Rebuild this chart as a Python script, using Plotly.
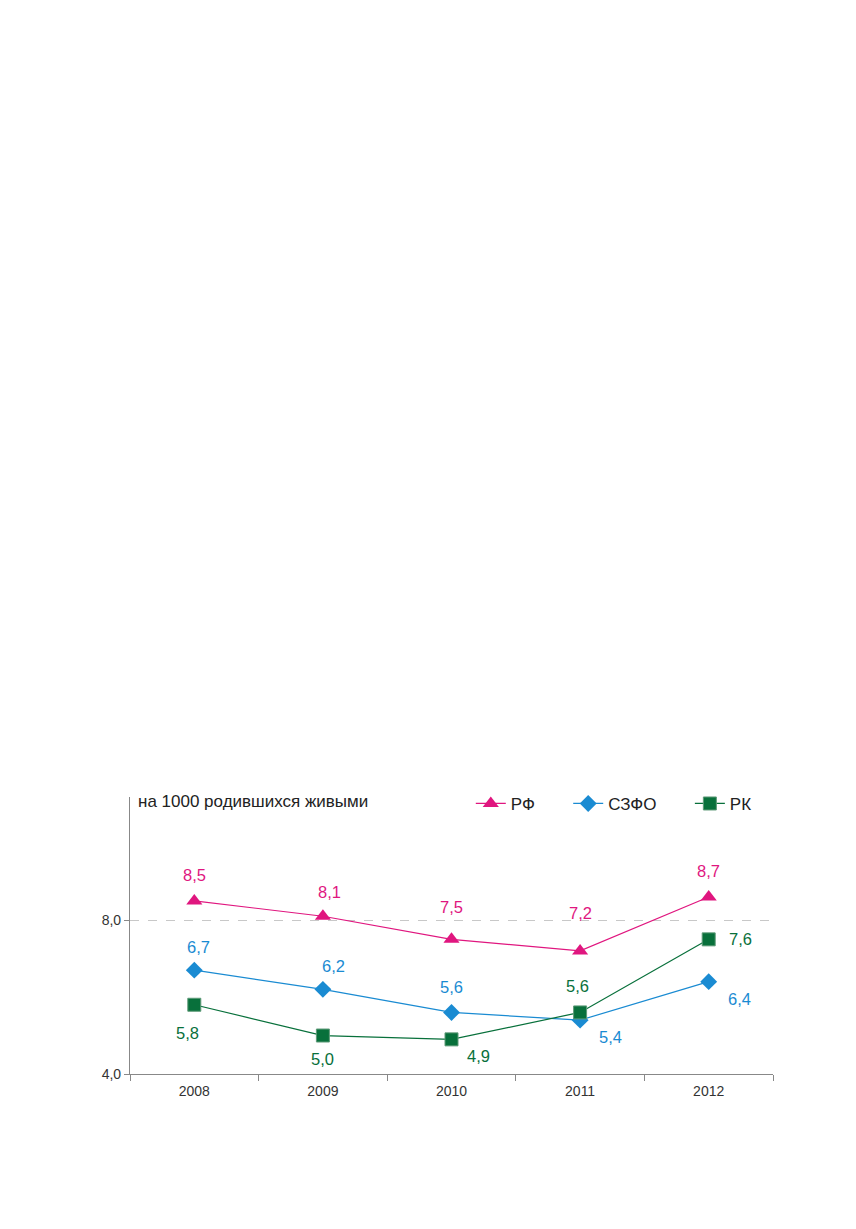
import plotly.graph_objects as go

years = ["2008", "2009", "2010", "2011", "2012"]
rf = [8.5, 8.1, 7.5, 7.2, 8.6]
szfo = [6.7, 6.2, 5.6, 5.4, 6.4]
rk = [5.8, 5.0, 4.9, 5.6, 7.5]
rf_labels = ["8,5", "8,1", "7,5", "7,2", "8,7"]
szfo_labels = ["6,7", "6,2", "5,6", "5,4", "6,4"]
rk_labels = ["5,8", "5,0", "4,9", "5,6", "7,6"]
ytick_vals = [4, 8]
ytick_text = ["4,0", "8,0"]

C_RF = "#e0167f"
C_SZ = "#1a8bd2"
C_RK = "#08703b"
FONT = "Liberation Sans, Arial, sans-serif"
PAD = "\u00a0" * 6

fig = go.Figure()
fig.add_trace(go.Scatter(x=years, y=rf, name="РФ" + PAD, mode="lines+markers",
                         line=dict(color=C_RF, width=1.2),
                         marker=dict(symbol="triangle-up", size=14, color=C_RF)))
fig.add_trace(go.Scatter(x=years, y=szfo, name="СЗФО" + PAD, mode="lines+markers",
                         line=dict(color=C_SZ, width=1.2),
                         marker=dict(symbol="diamond", size=13, color=C_SZ)))
fig.add_trace(go.Scatter(x=years, y=rk, name="РК", mode="lines+markers",
                         line=dict(color=C_RK, width=1.2),
                         marker=dict(symbol="square", size=13, color=C_RK,
                                     line=dict(color="#5e9a78", width=1))))

offsets = {
    "rf": [(0, 26), (7, 24), (0, 32), (0, 38), (0, 26)],
    "sz": [(4, 23), (11, 23), (0, 25), (30, -17), (31, -17)],
    "rk": [(-7, -28), (0, -23), (27, -17), (-3, 26), (32, 0)],
}
ann = []
for key, vals, labs, col in [("rf", rf, rf_labels, C_RF), ("sz", szfo, szfo_labels, C_SZ),
                             ("rk", rk, rk_labels, C_RK)]:
    for i, (v, lab) in enumerate(zip(vals, labs)):
        dx, dy = offsets[key][i]
        ann.append(dict(x=i, y=v, xref="x", yref="y", text=lab, showarrow=False,
                        xshift=dx, yshift=dy,
                        font=dict(size=16.5, color=col, family=FONT)))
ann.append(dict(x=0, xref="paper", y=1, yref="paper", xanchor="left", yanchor="middle",
                xshift=6, yshift=-4, text="на 1000 родившихся живыми", showarrow=False,
                font=dict(size=17, color="#222", family=FONT)))

fig.update_layout(
    width=848, height=1221,
    margin=dict(l=122, r=83, t=789, b=155, autoexpand=False),
    paper_bgcolor="white", plot_bgcolor="white",
    font=dict(family=FONT, color="#333"),
    annotations=ann,
    showlegend=True,
    legend=dict(orientation="h", x=0.53, xanchor="left", y=0.975, yanchor="middle",
                font=dict(size=17, color="#222", family=FONT), bgcolor="rgba(0,0,0,0)"),
)
fig.update_xaxes(type="category", range=[-0.5, 4.5], showline=True, linecolor="#888",
                 linewidth=1.2, ticks="outside", tickson="boundaries", ticklen=6,
                 tickcolor="#888", showgrid=False, tickfont=dict(size=14, color="#333"),
                 ticklabelstandoff=4, zeroline=False)
fig.update_yaxes(range=[4, 11.2], tickvals=ytick_vals, ticktext=ytick_text, showline=True,
                 linecolor="#888", linewidth=1.2, ticks="outside", ticklen=5, tickcolor="#888",
                 showgrid=True, gridcolor="#c8c8c8", griddash="dash", gridwidth=1.2,
                 tickfont=dict(size=14, color="#333"), zeroline=False)

fig.write_html("out.html")
